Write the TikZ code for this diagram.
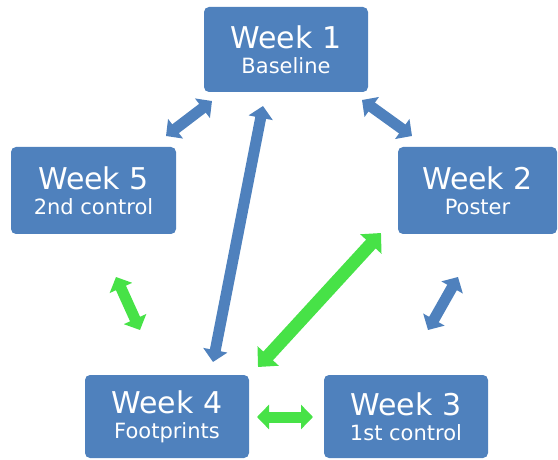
\documentclass[tikz,border=0pt]{standalone}
\usepackage{fontspec}
\setmainfont{DejaVu Sans}
\usetikzlibrary{arrows.meta}
\definecolor{boxblue}{HTML}{4F81BD}
\definecolor{arrgreen}{HTML}{47E247}
\tikzset{
  weekbox/.style={fill=boxblue, rounded corners=5pt, inner sep=0pt,
    align=center, text=white, font=\fontsize{21}{26}\selectfont},
  dbl/.style={line width=#1, {Triangle[width=24pt,length=12pt]}-{Triangle[width=24pt,length=12pt]}},
  bluearr/.style={dbl=11pt, draw=boxblue},
  greenarr/.style={dbl=11pt, draw=arrgreen},
  bigtips/.style={line width=13pt, {Triangle[width=28pt,length=15pt]}-{Triangle[width=28pt,length=15pt]}}
}
\newcommand{\wk}[2]{{\fontsize{30}{30}\selectfont #1}\\[-1pt]#2}
\begin{document}
\begin{tikzpicture}[x=1pt,y=1pt]
\useasboundingbox (0,0) rectangle (558,459);
\node[weekbox, minimum width=164pt, minimum height=85pt] (w1) at (286,409.5) {\wk{Week 1}{Baseline}};
\node[weekbox, minimum width=165pt, minimum height=87pt] (w5) at (93.5,268.5) {\wk{Week 5}{2nd control}};
\node[weekbox, minimum width=159pt, minimum height=87pt] (w2) at (477.5,268.5) {\wk{Week 2}{Poster}};
\node[weekbox, minimum width=164pt, minimum height=83pt] (w4) at (167,42.5) {\wk{Week 4}{Footprints}};
\node[weekbox, minimum width=164pt, minimum height=83pt] (w3) at (406,42.5) {\wk{Week 3}{1st control}};
\coordinate (e15a) at (212,358);
\coordinate (e15b) at (166,323);
\coordinate (e12a) at (362,359);
\coordinate (e12b) at (412,323);
\coordinate (e14a) at (263,353);
\coordinate (e14b) at (213,97);
\coordinate (e24a) at (381,226);
\coordinate (e24b) at (258,92);
\coordinate (e54a) at (116,182);
\coordinate (e54b) at (140,129);
\coordinate (e23a) at (458,182);
\coordinate (e23b) at (428,129);
\coordinate (e43a) at (257,42);
\coordinate (e43b) at (313,42);
\draw[bluearr] (e15a) -- (e15b);
\draw[bluearr] (e12a) -- (e12b);
\draw[bluearr] (e14a) -- (e14b);
\draw[bluearr] (e23a) -- (e23b);
\draw[greenarr, bigtips] (e24a) -- (e24b);
\draw[greenarr] (e54a) -- (e54b);
\draw[greenarr] (e43a) -- (e43b);
\end{tikzpicture}
\end{document}
